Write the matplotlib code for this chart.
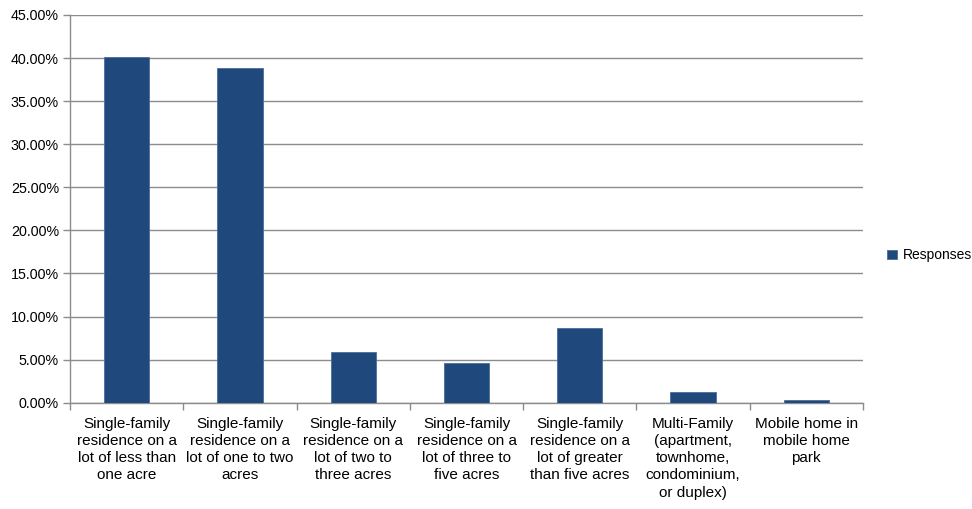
import matplotlib
matplotlib.use("Agg")
import matplotlib.pyplot as plt
import numpy as np
from matplotlib.ticker import FuncFormatter, MultipleLocator, FixedLocator

categories = [
    "Single-family\nresidence on a\nlot of less than\none acre",
    "Single-family\nresidence on a\nlot of one to two\nacres",
    "Single-family\nresidence on a\nlot of two to\nthree acres",
    "Single-family\nresidence on a\nlot of three to\nfive acres",
    "Single-family\nresidence on a\nlot of greater\nthan five acres",
    "Multi-Family\n(apartment,\ntownhome,\ncondominium,\nor duplex)",
    "Mobile home in\nmobile home\npark",
]
responses = [40.1, 38.8, 5.9, 4.65, 8.7, 1.25, 0.3]
series_name = "Responses"

plt.rcParams['font.family'] = ['Liberation Sans', 'DejaVu Sans']

fig = plt.figure(figsize=(9.72, 5.09), dpi=100)
ax = fig.add_axes([70/972, 1-402.7/509, (863-70)/972, (402.7-15)/509])

x = np.arange(len(categories))
ax.bar(x, responses, width=0.4, color="#1F497D", edgecolor="#4A6E99", linewidth=0.6,
       label=series_name, zorder=3)

ax.set_xlim(-0.5, len(categories) - 0.5)
ax.set_ylim(0, 45)
ax.yaxis.set_major_locator(MultipleLocator(5))
ax.yaxis.set_major_formatter(FuncFormatter(lambda v, p: f"{v:.2f}%"))
ax.grid(axis='y', color="#8C8C8C", linewidth=1.0, zorder=0)

ax.set_xticks(x)
ax.set_xticklabels(categories, fontsize=11, linespacing=1.3)
ax.tick_params(axis='x', which='major', length=0, pad=10)
ax.xaxis.set_minor_locator(FixedLocator(np.arange(-0.5, len(categories), 1.0)))
ax.tick_params(axis='x', which='minor', length=5, color="#8C8C8C", width=1)
ax.tick_params(axis='y', length=5, color="#8C8C8C", width=1, labelsize=10.3, pad=3)

for s in ['top', 'right']:
    ax.spines[s].set_visible(False)
for s in ['left', 'bottom']:
    ax.spines[s].set_color("#8C8C8C")
    ax.spines[s].set_linewidth(1)

leg = ax.legend(loc='center left', bbox_to_anchor=(1.015, 0.38), frameon=False,
                fontsize=10, handlelength=0.7, handleheight=0.7, handletextpad=0.4)

fig.savefig("out.png", dpi=100)
